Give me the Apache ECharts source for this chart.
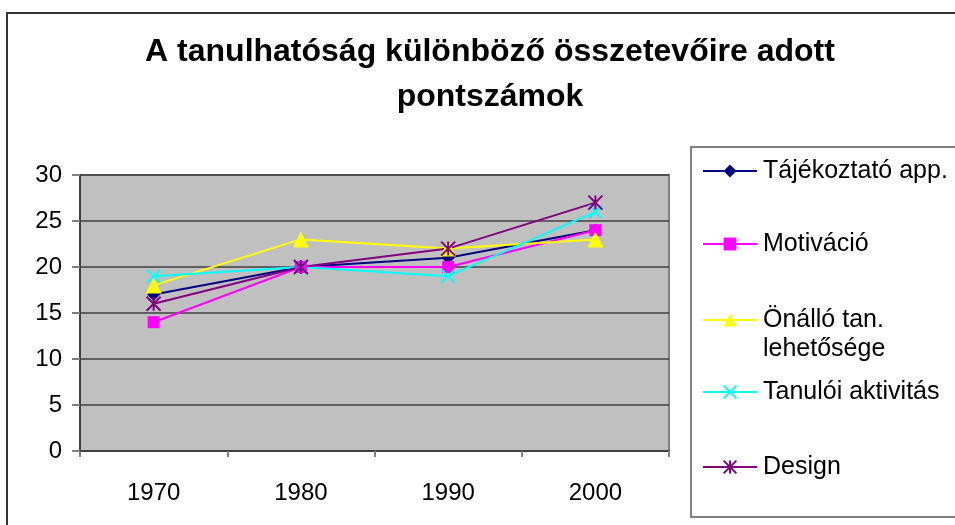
<!DOCTYPE html>
<html>
<head>
<meta charset="utf-8">
<script src="https://cdn.jsdelivr.net/npm/echarts@6/dist/echarts.min.js"></script>
<style>html,body{margin:0;padding:0;background:#fff}#c{width:955px;height:525px}</style>
</head>
<body>
<div id="c"></div>
<script>
const titleText = 'A tanulhatóság különböző összetevőire adott\npontszámok';
const categories = ['1970', '1980', '1990', '2000'];
const seriesNames = ['Tájékoztató app.', 'Motiváció', 'Önálló tan. lehetősége', 'Tanulói aktivitás', 'Design'];
const legendLabels = ['Tájékoztató app.', 'Motiváció', 'Önálló tan.', 'Tanulói aktivitás', 'Design'];
const legendExtraLine = 'lehetősége';
const tajekoztato = [17, 20, 21, 24];
const motivacio = [14, 20, 20, 24];
const onallo = [18, 23, 22, 23];
const tanuloi = [19, 20, 19, 26];
const design = [16, 20, 22, 27];
const yTicks = [0, 5, 10, 15, 20, 25, 30];

const values = [tajekoztato, motivacio, onallo, tanuloi, design];
const colors = ['#000080', '#FF00FF', '#FFFF00', '#00FFFF', '#800080'];
const symbols = ['diamond', 'rect', 'triangle', 'path://M0,0L10,10M10,0L0,10', 'path://M5,0L5,10M0,0L10,10M10,0L0,10'];
const symbolSizes = [13, 12, 16, 13, 14];
const legendCenters = [171, 244, 320, 392, 467];
const FONT = '"Liberation Sans", Arial, sans-serif';

const chart = echarts.init(document.getElementById('c'), null, {renderer: 'canvas'});

const series = seriesNames.map((name, i) => {
  const isPath = symbols[i].indexOf('path://') === 0;
  return {
    name: name,
    type: 'line',
    data: values[i],
    symbol: symbols[i],
    symbolSize: symbolSizes[i],
    symbolKeepAspect: true,
    lineStyle: {color: colors[i], width: 2},
    itemStyle: isPath ? {color: colors[i], borderColor: colors[i], borderWidth: 2} : {color: colors[i], borderWidth: 0},
    emphasis: {disabled: true},
    animation: false
  };
});

const legends = seriesNames.map((name, i) => ({
  orient: 'vertical',
  left: 702,
  top: legendCenters[i] - 15,
  padding: 0,
  itemWidth: 54,
  itemHeight: 16,
  data: [name],
  selectedMode: false,
  formatter: () => legendLabels[i],
  textStyle: {fontFamily: FONT, fontSize: 25, color: '#000', lineHeight: 30, padding: [0, 0, 0, 1]}
}));

chart.setOption({
  backgroundColor: '#fff',
  animation: false,
  title: {
    text: titleText,
    left: 490,
    top: 30,
    textAlign: 'center',
    padding: 0,
    textStyle: {fontFamily: FONT, fontSize: 32, fontWeight: 'bold', color: '#000', lineHeight: 45}
  },
  legend: legends,
  grid: {
    left: 80, top: 175, right: 286, bottom: 74,
    show: true, backgroundColor: '#C0C0C0', borderColor: '#808080', borderWidth: 2,
    containLabel: false
  },
  xAxis: {
    type: 'category',
    data: categories,
    boundaryGap: true,
    axisLine: {lineStyle: {color: '#404040', width: 2}},
    axisTick: {show: true, inside: false, length: 6, alignWithLabel: false, lineStyle: {color: '#808080', width: 2}},
    axisLabel: {fontFamily: FONT, fontSize: 24, color: '#000', margin: 30},
    splitLine: {show: false}
  },
  yAxis: {
    type: 'value',
    min: yTicks[0],
    max: yTicks[yTicks.length - 1],
    interval: 5,
    axisLine: {show: true, lineStyle: {color: '#404040', width: 2}},
    axisTick: {show: true, inside: false, length: 8, lineStyle: {color: '#808080', width: 2}},
    axisLabel: {fontFamily: FONT, fontSize: 24, color: '#000', margin: 18},
    splitLine: {show: true, lineStyle: {color: '#404040', width: 1.5}}
  },
  graphic: [
    {type: 'rect', z: -10, shape: {x: 7, y: 13, width: 1000, height: 600}, style: {fill: 'none', stroke: '#333', lineWidth: 2}},
    {type: 'rect', z: -5, shape: {x: 691, y: 147, width: 300, height: 370}, style: {fill: '#fff', stroke: '#808080', lineWidth: 2}},
    {type: 'text', x: 763, y: 349, style: {text: legendExtraLine, font: '25px ' + FONT, fill: '#000', verticalAlign: 'middle', textAlign: 'left'}}
  ],
  series: series
});
</script>
</body>
</html>
